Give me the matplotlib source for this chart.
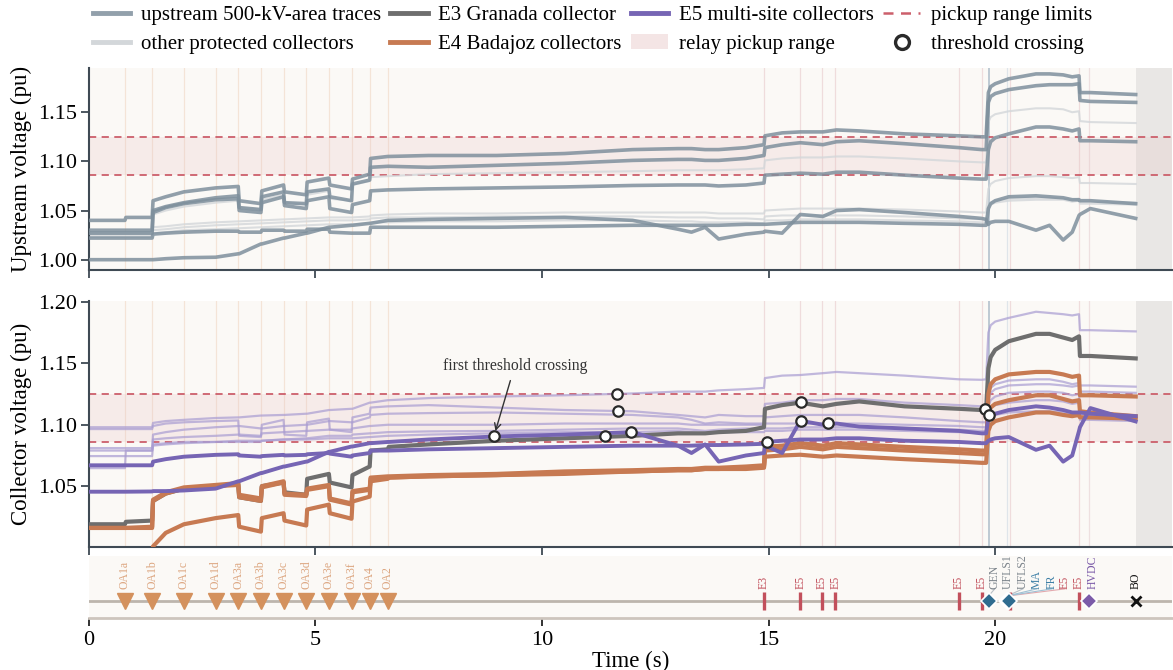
import matplotlib.pyplot as plt
from matplotlib.lines import Line2D
from matplotlib.patches import Patch

plt.rcParams['font.family'] = ['Liberation Serif', 'DejaVu Serif']
plt.rcParams['font.size'] = 16

# ----------------------------------------------------------
# shared time base (s); doubled stamps carry the step changes
# ----------------------------------------------------------
T = [0.0, 0.8, 0.82, 1.4, 1.42, 1.7, 2.1, 2.8,
     3.3, 3.32, 3.8, 3.82, 4.3, 4.32, 4.8, 4.82,
     5.3, 5.32, 5.8, 5.82, 6.2, 6.22, 6.6, 6.62,
     7.5, 9.0, 10.5, 12.0, 13.0, 13.3, 13.6, 13.9,
     14.5, 14.9, 14.92, 15.3, 15.7, 16.2, 16.5, 17.0,
     18.0, 19.2, 19.7, 19.8, 19.85, 19.9, 20.0, 20.3,
     20.9, 21.2, 21.5, 21.7, 21.85, 21.87, 22.1, 23.1]

# upstream 500-kV-area traces (pu)
UP_A = [1.040, 1.040, 1.043, 1.043, 1.060, 1.064, 1.069, 1.073,
        1.0745, 1.060, 1.057, 1.070, 1.076, 1.069, 1.066, 1.079,
        1.083, 1.076, 1.072, 1.082, 1.087, 1.103, 1.105, 1.105,
        1.106, 1.106, 1.108, 1.112, 1.113, 1.113, 1.112, 1.112,
        1.114, 1.117, 1.126, 1.129, 1.130, 1.130, 1.132, 1.131,
        1.128, 1.126, 1.125, 1.125, 1.170, 1.176, 1.179, 1.184,
        1.189, 1.189, 1.188, 1.186, 1.187, 1.170, 1.170, 1.168]
UP_B = [1.030, 1.030, 1.030, 1.030, 1.050, 1.054, 1.058, 1.063,
        1.065, 1.053, 1.051, 1.064, 1.069, 1.058, 1.057, 1.069,
        1.072, 1.064, 1.060, 1.077, 1.081, 1.094, 1.095, 1.095,
        1.094, 1.096, 1.098, 1.101, 1.102, 1.102, 1.101, 1.101,
        1.103, 1.106, 1.114, 1.117, 1.119, 1.117, 1.120, 1.121,
        1.118, 1.114, 1.112, 1.112, 1.160, 1.166, 1.169, 1.173,
        1.177, 1.178, 1.178, 1.178, 1.179, 1.162, 1.161, 1.160]
UP_C = [1.027, 1.027, 1.027, 1.027, 1.048, 1.053, 1.057, 1.061,
        1.062, 1.050, 1.048, 1.058, 1.064, 1.055, 1.052, 1.060,
        1.064, 1.052, 1.048, 1.056, 1.060, 1.070, 1.071, 1.071,
        1.072, 1.073, 1.074, 1.0755, 1.076, 1.076, 1.076, 1.075,
        1.076, 1.078, 1.086, 1.087, 1.088, 1.087, 1.089, 1.089,
        1.086, 1.083, 1.082, 1.082, 1.112, 1.120, 1.124, 1.128,
        1.135, 1.135, 1.133, 1.131, 1.133, 1.121, 1.121, 1.120]
UP_D = [1.022, 1.022, 1.022, 1.022, 1.026, 1.027, 1.028, 1.029,
        1.029, 1.028, 1.028, 1.030, 1.030, 1.029, 1.029, 1.031,
        1.031, 1.028, 1.027, 1.027, 1.027, 1.033, 1.033, 1.033,
        1.033, 1.033, 1.034, 1.035, 1.035, 1.035, 1.035, 1.035,
        1.036, 1.036, 1.036, 1.037, 1.038, 1.038, 1.038, 1.038,
        1.037, 1.036, 1.035, 1.035, 1.052, 1.057, 1.060, 1.064,
        1.065, 1.064, 1.063, 1.061, 1.061, 1.060, 1.060, 1.057]
UP_E = [1.000, 1.000, 1.000, 1.000, 1.000, 1.001, 1.002, 1.0025,
        1.006, 1.006, 1.016, 1.016, 1.022, 1.022, 1.027, 1.027,
        1.033, 1.033, 1.035, 1.035, 1.037, 1.037, 1.040, 1.040,
        1.041, 1.042, 1.043, 1.040, 1.031, 1.028, 1.033, 1.021,
        1.026, 1.028, 1.029, 1.027, 1.046, 1.044, 1.050, 1.051,
        1.048, 1.044, 1.042, 1.041, 1.036, 1.038, 1.039, 1.039,
        1.030, 1.035, 1.020, 1.028, 1.045, 1.046, 1.052, 1.042]

# other protected collectors (pu)
OTH_1 = [1.028, 1.028, 1.028, 1.028, 1.046, 1.050, 1.054, 1.058,
         1.060, 1.053, 1.051, 1.061, 1.066, 1.058, 1.056, 1.066,
         1.070, 1.062, 1.060, 1.076, 1.080, 1.084, 1.085, 1.085,
         1.087, 1.088, 1.089, 1.090, 1.091, 1.091, 1.091, 1.091,
         1.092, 1.093, 1.101, 1.103, 1.104, 1.104, 1.105, 1.105,
         1.103, 1.100, 1.099, 1.099, 1.140, 1.145, 1.148, 1.151,
         1.154, 1.154, 1.153, 1.150, 1.151, 1.141, 1.140, 1.139]
OTH_2 = [1.027, 1.027, 1.027, 1.027, 1.033, 1.034, 1.036, 1.038,
         1.039, 1.039, 1.040, 1.040, 1.041, 1.041, 1.042, 1.042,
         1.043, 1.043, 1.043, 1.043, 1.044, 1.045, 1.046, 1.046,
         1.047, 1.047, 1.048, 1.048, 1.048, 1.048, 1.048, 1.047,
         1.047, 1.047, 1.050, 1.051, 1.052, 1.052, 1.052, 1.052,
         1.051, 1.049, 1.048, 1.048, 1.072, 1.077, 1.080, 1.083,
         1.085, 1.085, 1.084, 1.083, 1.084, 1.078, 1.078, 1.077]
OTH_3 = [1.025, 1.025, 1.025, 1.025, 1.030, 1.031, 1.033, 1.035,
         1.036, 1.036, 1.037, 1.037, 1.038, 1.038, 1.039, 1.039,
         1.040, 1.040, 1.040, 1.040, 1.041, 1.042, 1.043, 1.043,
         1.043, 1.044, 1.044, 1.044, 1.043, 1.043, 1.043, 1.042,
         1.042, 1.041, 1.044, 1.045, 1.045, 1.045, 1.045, 1.045,
         1.044, 1.042, 1.041, 1.041, 1.055, 1.058, 1.060, 1.062,
         1.063, 1.063, 1.062, 1.061, 1.062, 1.059, 1.059, 1.058]
OTH_4 = [1.023, 1.023, 1.023, 1.023, 1.027, 1.028, 1.030, 1.031,
         1.032, 1.032, 1.033, 1.033, 1.034, 1.034, 1.035, 1.035,
         1.036, 1.036, 1.036, 1.036, 1.037, 1.038, 1.038, 1.038,
         1.039, 1.039, 1.040, 1.040, 1.039, 1.039, 1.038, 1.038,
         1.038, 1.037, 1.040, 1.040, 1.041, 1.041, 1.041, 1.041,
         1.040, 1.039, 1.038, 1.038, 1.052, 1.056, 1.058, 1.060,
         1.061, 1.061, 1.061, 1.059, 1.060, 1.057, 1.057, 1.056]

# E3 Granada collector (pu)
E3_GRANADA = [1.019, 1.019, 1.021, 1.022, 1.038, 1.044, 1.048, 1.050,
              1.052, 1.041, 1.038, 1.050, 1.053, 1.045, 1.043, 1.056,
              1.060, 1.053, 1.049, 1.059, 1.066, 1.079, 1.080, 1.082,
              1.084, 1.087, 1.089, 1.091, 1.093, 1.093, 1.093, 1.094,
              1.095, 1.098, 1.113, 1.116, 1.118, 1.115, 1.117, 1.119,
              1.115, 1.113, 1.112, 1.112, 1.146, 1.155, 1.161, 1.168,
              1.174, 1.174, 1.171, 1.169, 1.172, 1.156, 1.156, 1.154]

# E4 Badajoz collectors (pu)
E4_1 = [1.016, 1.016, 1.016, 1.017, 1.039, 1.045, 1.049, 1.051,
        1.0525, 1.043, 1.040, 1.050, 1.054, 1.044, 1.043, 1.048,
        1.051, 1.040, 1.036, 1.046, 1.048, 1.057, 1.058, 1.058,
        1.059, 1.060, 1.062, 1.063, 1.064, 1.064, 1.065, 1.065,
        1.066, 1.067, 1.082, 1.083, 1.085, 1.083, 1.085, 1.084,
        1.082, 1.080, 1.079, 1.079, 1.125, 1.133, 1.137, 1.141,
        1.143, 1.143, 1.141, 1.139, 1.140, 1.124, 1.124, 1.123]
E4_2 = [1.016, 1.016, 1.016, 1.016, 1.038, 1.044, 1.048, 1.050,
        1.051, 1.041, 1.038, 1.049, 1.053, 1.043, 1.042, 1.047,
        1.050, 1.039, 1.035, 1.045, 1.047, 1.056, 1.057, 1.057,
        1.058, 1.059, 1.061, 1.062, 1.063, 1.063, 1.064, 1.064,
        1.065, 1.066, 1.079, 1.080, 1.082, 1.080, 1.082, 1.081,
        1.079, 1.077, 1.076, 1.076, 1.108, 1.114, 1.117, 1.120,
        1.124, 1.124, 1.121, 1.119, 1.120, 1.111, 1.110, 1.107]
E4_3 = [0.985, 0.985, 0.985, 0.985, 1.001, 1.012, 1.019, 1.024,
        1.0265, 1.017, 1.013, 1.024, 1.028, 1.022, 1.018, 1.031,
        1.035, 1.028, 1.0235, 1.0375, 1.0415, 1.054, 1.056, 1.057,
        1.058, 1.059, 1.060, 1.062, 1.063, 1.063, 1.064, 1.064,
        1.064, 1.065, 1.074, 1.075, 1.0756, 1.074, 1.075, 1.074,
        1.072, 1.070, 1.069, 1.069, 1.095, 1.100, 1.103, 1.106,
        1.110, 1.110, 1.108, 1.107, 1.108, 1.106, 1.106, 1.105]

# E5 multi-site collectors, the two monitored buses (pu)
E5_1 = [1.067, 1.067, 1.067, 1.067, 1.070, 1.072, 1.074, 1.0755,
        1.076, 1.075, 1.074, 1.0745, 1.0755, 1.075, 1.0755, 1.076,
        1.077, 1.0765, 1.074, 1.075, 1.077, 1.079, 1.079, 1.079,
        1.080, 1.081, 1.082, 1.083, 1.083, 1.083, 1.0835, 1.0835,
        1.084, 1.0845, 1.086, 1.087, 1.088, 1.088, 1.089, 1.089,
        1.087, 1.086, 1.085, 1.085, 1.087, 1.088, 1.089, 1.090,
        1.0796, 1.083, 1.070, 1.075, 1.095, 1.098, 1.1136, 1.1027]
E5_2 = [1.0455, 1.0455, 1.0455, 1.0457, 1.046, 1.046, 1.0465, 1.048,
        1.054, 1.054, 1.0607, 1.0607, 1.066, 1.066, 1.070, 1.070,
        1.078, 1.078, 1.0823, 1.0823, 1.085, 1.085, 1.086, 1.086,
        1.088, 1.0905, 1.092, 1.094, 1.083, 1.077, 1.084, 1.070,
        1.075, 1.077, 1.083, 1.077, 1.1033, 1.100, 1.101, 1.0985,
        1.097, 1.095, 1.093, 1.093, 1.106, 1.107, 1.109, 1.112,
        1.115, 1.114, 1.112, 1.110, 1.110, 1.110, 1.109, 1.107]

# remaining E5 sites (pu)
E5_SITE_1 = [1.098, 1.098, 1.098, 1.098, 1.1015, 1.103, 1.104, 1.1055,
             1.106, 1.106, 1.1075, 1.1075, 1.108, 1.108, 1.109, 1.109,
             1.112, 1.112, 1.113, 1.113, 1.118, 1.118, 1.120, 1.120,
             1.1217, 1.123, 1.124, 1.1255, 1.127, 1.127, 1.127, 1.128,
             1.129, 1.130, 1.138, 1.140, 1.1405, 1.142, 1.143, 1.142,
             1.140, 1.137, 1.1366, 1.137, 1.175, 1.181, 1.184, 1.187,
             1.192, 1.191, 1.190, 1.189, 1.190, 1.177, 1.177, 1.176]
E5_SITE_2 = [1.0965, 1.0965, 1.0965, 1.0965, 1.099, 1.101, 1.102, 1.103,
             1.1035, 1.091, 1.090, 1.100, 1.104, 1.092, 1.091, 1.102,
             1.105, 1.096, 1.094, 1.106, 1.109, 1.114, 1.115, 1.115,
             1.116, 1.114, 1.112, 1.111, 1.108, 1.107, 1.106, 1.108,
             1.107, 1.107, 1.117, 1.118, 1.120, 1.120, 1.121, 1.121,
             1.118, 1.116, 1.115, 1.115, 1.125, 1.130, 1.133, 1.136,
             1.137, 1.137, 1.135, 1.133, 1.134, 1.132, 1.132, 1.131]
E5_SITE_3 = [1.081, 1.081, 1.081, 1.081, 1.092, 1.094, 1.096, 1.098,
             1.099, 1.099, 1.097, 1.097, 1.099, 1.099, 1.100, 1.100,
             1.103, 1.103, 1.102, 1.102, 1.106, 1.108, 1.109, 1.109,
             1.1095, 1.110, 1.109, 1.108, 1.106, 1.104, 1.101, 1.102,
             1.101, 1.101, 1.106, 1.107, 1.108, 1.108, 1.108, 1.108,
             1.106, 1.103, 1.102, 1.102, 1.120, 1.126, 1.129, 1.132,
             1.133, 1.133, 1.132, 1.131, 1.132, 1.127, 1.127, 1.126]
E5_SITE_4 = [1.079, 1.079, 1.079, 1.079, 1.088, 1.089, 1.090, 1.091,
             1.092, 1.092, 1.091, 1.093, 1.094, 1.094, 1.095, 1.095,
             1.096, 1.096, 1.096, 1.097, 1.099, 1.099, 1.100, 1.100,
             1.100, 1.100, 1.101, 1.101, 1.101, 1.100, 1.100, 1.100,
             1.100, 1.100, 1.101, 1.101, 1.101, 1.101, 1.101, 1.101,
             1.100, 1.099, 1.098, 1.098, 1.115, 1.120, 1.123, 1.126,
             1.127, 1.127, 1.126, 1.124, 1.125, 1.108, 1.107, 1.106]
E5_SITE_5 = [1.0745, 1.0745, 1.0745, 1.0745, 1.083, 1.084, 1.085, 1.086,
             1.086, 1.086, 1.086, 1.087, 1.088, 1.088, 1.089, 1.089,
             1.091, 1.091, 1.091, 1.092, 1.093, 1.093, 1.094, 1.094,
             1.0946, 1.095, 1.096, 1.097, 1.097, 1.096, 1.095, 1.096,
             1.097, 1.097, 1.097, 1.097, 1.098, 1.098, 1.098, 1.098,
             1.097, 1.096, 1.095, 1.095, 1.110, 1.114, 1.116, 1.118,
             1.120, 1.120, 1.119, 1.117, 1.118, 1.104, 1.104, 1.103]
E5_SITE_6 = [1.0647, 1.0647, 1.079, 1.079, 1.084, 1.085, 1.086, 1.086,
             1.087, 1.087, 1.087, 1.087, 1.088, 1.088, 1.088, 1.088,
             1.089, 1.089, 1.089, 1.089, 1.090, 1.090, 1.091, 1.091,
             1.092, 1.093, 1.094, 1.094, 1.095, 1.094, 1.093, 1.094,
             1.094, 1.094, 1.095, 1.095, 1.096, 1.096, 1.096, 1.096,
             1.095, 1.094, 1.093, 1.093, 1.103, 1.106, 1.108, 1.110,
             1.111, 1.111, 1.110, 1.108, 1.109, 1.106, 1.106, 1.105]

# relay pickup range (pu)
PICKUP_LO = 1.086
PICKUP_HI = 1.125

# threshold crossings on the collector buses
CROSS_T = [8.94, 11.66, 11.68, 11.39, 11.96, 14.96, 15.71, 15.71, 16.32, 19.77, 19.86]
CROSS_V = [1.0905, 1.1252, 1.1114, 1.0905, 1.0941, 1.0859, 1.1182, 1.1033, 1.1014, 1.1128, 1.1076]

# event timeline
OA_T = [0.8, 1.4, 2.1, 2.8, 3.3, 3.8, 4.3, 4.8, 5.3, 5.8, 6.2, 6.6]
OA_LABELS = ['OA1a', 'OA1b', 'OA1c', 'OA1d', 'OA3a', 'OA3b', 'OA3c', 'OA3d',
             'OA3e', 'OA3f', 'OA4', 'OA2']
TRIP_T = [14.9, 15.7, 16.17, 16.47, 19.2, 19.7, 20.33, 21.85]
TRIP_LABELS = ['E3', 'E5', 'E5', 'E5', 'E5', 'E5', 'E5', 'E5']
TRIP_LABEL_T = [14.9, 15.7, 16.17, 16.47, 19.2, 19.7, 21.54, 21.83]
GRID_T = [19.86, 20.27, 20.28, 20.29, 20.30]
GRID_LABELS = ['GEN', 'UFLS1', 'UFLS2', 'MA', 'FR']
GRID_LABEL_T = [19.99, 20.28, 20.61, 20.92, 21.25]
HVDC_T, HVDC_LABEL_T = 22.07, 22.16
BO_T = 23.1
T_END = 23.9

# colours
BG = '#fbf9f6'
C_UP = '#7f909d'
C_OTH = '#d3d7da'
C_E3 = '#6e6e6e'
C_E4 = '#c77a52'
C_E5 = '#7665b4'
C_E5_SITE = '#a89cd2'
C_LIMIT = '#cc5f6b'
C_BAND = '#e8c4c4'
C_OA = '#d4915d'
C_TRIP = '#c2505c'
C_GRID = '#2f6c8f'
C_HVDC = '#7b5aa8'
C_SPINE = '#3f4a54'

fig = plt.figure(figsize=(11.73, 6.70), dpi=100)
ax_up = fig.add_axes([0.0756, 0.597, 0.9235, 0.3015])
ax_col = fig.add_axes([0.0756, 0.1836, 0.9235, 0.3676])
ax_ev = fig.add_axes([0.0756, 0.0776, 0.9235, 0.0925])


def dress_panel(ax, ylim, yticks, ylabel):
    ax.set_facecolor(BG)
    ax.set_xlim(0, T_END)
    ax.set_ylim(*ylim)
    ax.set_yticks(yticks)
    ax.set_yticklabels([f'{v:.2f}' for v in yticks])
    ax.set_xticks([0, 5, 10, 15, 20])
    ax.tick_params(labelbottom=False, direction='out', length=6, width=1.3,
                   color=C_SPINE, labelsize=16, pad=2)
    for side in ('top', 'right'):
        ax.spines[side].set_visible(False)
    for side in ('left', 'bottom'):
        ax.spines[side].set_color(C_SPINE)
        ax.spines[side].set_linewidth(1.5)
    ax.set_ylabel(ylabel, fontsize=16.5, labelpad=5)

    # event markers through the panel (one line per distinct instant)
    for t in OA_T:
        ax.axvline(t, color='#f4e4d7', lw=0.9, zorder=0.6)
    for t in TRIP_T:
        ax.axvline(t, color='#efdcdc', lw=0.9, zorder=0.6)
    ax.axvline(GRID_T[0], color='#b3c1cc', lw=1.2, zorder=0.6)
    ax.axvline(GRID_T[1], color='#dfe5ea', lw=0.9, zorder=0.6)
    ax.axvline(HVDC_T, color='#eee0e0', lw=0.9, zorder=0.6)

    ax.axvspan(BO_T, T_END, color='#e9e7e5', lw=0, zorder=0.5)
    ax.axhspan(PICKUP_LO, PICKUP_HI, color=C_BAND, alpha=0.25, lw=0, zorder=0.7)
    for lim in (PICKUP_LO, PICKUP_HI):
        ax.axhline(lim, color=C_LIMIT, lw=1.3, ls=(0, (4, 3)), zorder=1.5)


# ---------------- upstream panel ----------------
dress_panel(ax_up, (0.9895, 1.195), [1.00, 1.05, 1.10, 1.15], 'Upstream voltage (pu)')
for series in (OTH_1, OTH_2, OTH_3, OTH_4):
    ax_up.plot(T, series, color=C_OTH, lw=1.5, alpha=0.8, zorder=2)
for series in (UP_A, UP_B, UP_C, UP_D, UP_E):
    ax_up.plot(T, series, color=C_UP, lw=2.6, alpha=0.85, zorder=3)

# ---------------- collector panel ----------------
dress_panel(ax_col, (1.0005, 1.201), [1.05, 1.10, 1.15, 1.20], 'Collector voltage (pu)')
for series in (E5_SITE_1, E5_SITE_2, E5_SITE_3, E5_SITE_4, E5_SITE_5, E5_SITE_6):
    ax_col.plot(T, series, color=C_E5_SITE, lw=1.6, alpha=0.7, zorder=2)
ax_col.plot(T, E3_GRANADA, color=C_E3, lw=3.0, zorder=3)
for series in (E4_3, E4_2, E4_1):
    ax_col.plot(T, series, color=C_E4, lw=3.0, zorder=3.2)
for series in (E5_1, E5_2):
    ax_col.plot(T, series, color=C_E5, lw=2.8, zorder=3.4)
ax_col.plot(CROSS_T, CROSS_V, ls='none', marker='o', ms=7.5, mfc='white',
            mec='#2a2a2a', mew=1.6, zorder=5)
ax_col.annotate('first threshold crossing', xy=(CROSS_T[0], CROSS_V[0]),
                xytext=(9.4, 1.148), ha='center', va='center', fontsize=11.3,
                color='#333333', zorder=6,
                arrowprops=dict(arrowstyle='->', color='#333333', lw=1.0,
                                shrinkA=3, shrinkB=4))

# ---------------- event timeline ----------------
ax_ev.set_facecolor(BG)
ax_ev.set_xlim(0, T_END)
ax_ev.set_ylim(0, 1)
ax_ev.set_yticks([])
ax_ev.set_xticks([0, 5, 10, 15, 20])
ax_ev.tick_params(axis='x', direction='out', length=6, width=1.3, color='#222222',
                  labelsize=16, pad=3)
for side in ('top', 'right', 'left'):
    ax_ev.spines[side].set_visible(False)
ax_ev.spines['bottom'].set_color('#cdc5bd')
ax_ev.spines['bottom'].set_linewidth(2)
ax_ev.set_xlabel('Time (s)', fontsize=16.5, labelpad=1)

BASE = 0.274
LABEL_Y = 0.47
EV_FS = 8.5
ax_ev.axhline(BASE, color='#bdb5ad', lw=2, zorder=1)

ax_ev.plot(OA_T, [BASE] * len(OA_T), ls='none', marker='v', ms=11,
           color=C_OA, mec=C_OA, zorder=3)
for t, lab in zip(OA_T, OA_LABELS):
    ax_ev.text(t, LABEL_Y, lab, rotation=90, ha='center', va='bottom',
               fontsize=EV_FS, color='#dca57f')

ax_ev.plot(TRIP_T, [BASE] * len(TRIP_T), ls='none', marker='|', ms=13, mew=2.4,
           color=C_TRIP, zorder=3)
for t, lt, lab in zip(TRIP_T, TRIP_LABEL_T, TRIP_LABELS):
    ax_ev.text(lt, LABEL_Y, lab, rotation=90, ha='center', va='bottom',
               fontsize=EV_FS, color=C_TRIP)
    if abs(lt - t) > 0.05:
        ax_ev.plot([lt, t], [LABEL_Y, 0.36], color='#e3a9ae', lw=0.8, zorder=2)

grid_text = ['#7d858c', '#7d858c', '#7d858c', '#3d7fa6', '#3d7fa6']
grid_lead = ['#b9c0c6', '#b9c0c6', '#b9c0c6', '#9fc0d4', '#9fc0d4']
for t, lt, lab, tc, lc in zip(GRID_T, GRID_LABEL_T, GRID_LABELS, grid_text, grid_lead):
    ax_ev.text(lt, LABEL_Y, lab, rotation=90, ha='center', va='bottom',
               fontsize=EV_FS, color=tc)
    if abs(lt - t) > 0.05:
        ax_ev.plot([lt, t], [LABEL_Y, 0.36], color=lc, lw=0.8, zorder=2)
ax_ev.plot(GRID_T, [BASE] * len(GRID_T), ls='none', marker='D', ms=8,
           color=C_GRID, mec='white', mew=1.2, zorder=4)

ax_ev.plot([HVDC_T], [BASE], ls='none', marker='D', ms=8, color=C_HVDC,
           mec='white', mew=1.2, zorder=4)
ax_ev.text(HVDC_LABEL_T, LABEL_Y, 'HVDC', rotation=90, ha='center', va='bottom',
           fontsize=EV_FS, color=C_HVDC)
ax_ev.plot([BO_T], [BASE], ls='none', marker='x', ms=7, mew=2, color='#111111',
           zorder=4)
ax_ev.text(BO_T, LABEL_Y, 'BO', rotation=90, ha='center', va='bottom',
           fontsize=EV_FS, color='#111111')

# ---------------- legend ----------------
handles = [
    Line2D([], [], color=C_UP, lw=3.5, alpha=0.85),
    Line2D([], [], color=C_OTH, lw=3.5),
    Line2D([], [], color=C_E3, lw=3.5),
    Line2D([], [], color=C_E4, lw=3.5),
    Line2D([], [], color=C_E5, lw=3.5),
    Patch(facecolor='#f4e5e5', edgecolor='none'),
    Line2D([], [], color=C_LIMIT, lw=1.8, ls=(0, (4, 3))),
    Line2D([], [], ls='none', marker='o', ms=10, mfc='white', mec='#2a2a2a', mew=2.4),
]
labels = ['upstream 500-kV-area traces', 'other protected collectors',
          'E3 Granada collector', 'E4 Badajoz collectors',
          'E5 multi-site collectors', 'relay pickup range',
          'pickup range limits', 'threshold crossing']
fig.legend(handles, labels, loc='upper center', bbox_to_anchor=(0.505, 1.02),
           ncol=4, frameon=False, fontsize=15, handlelength=1.8,
           columnspacing=0.45, handletextpad=0.5, labelspacing=0.45)

fig.savefig('out.png', dpi=100, facecolor='white')
